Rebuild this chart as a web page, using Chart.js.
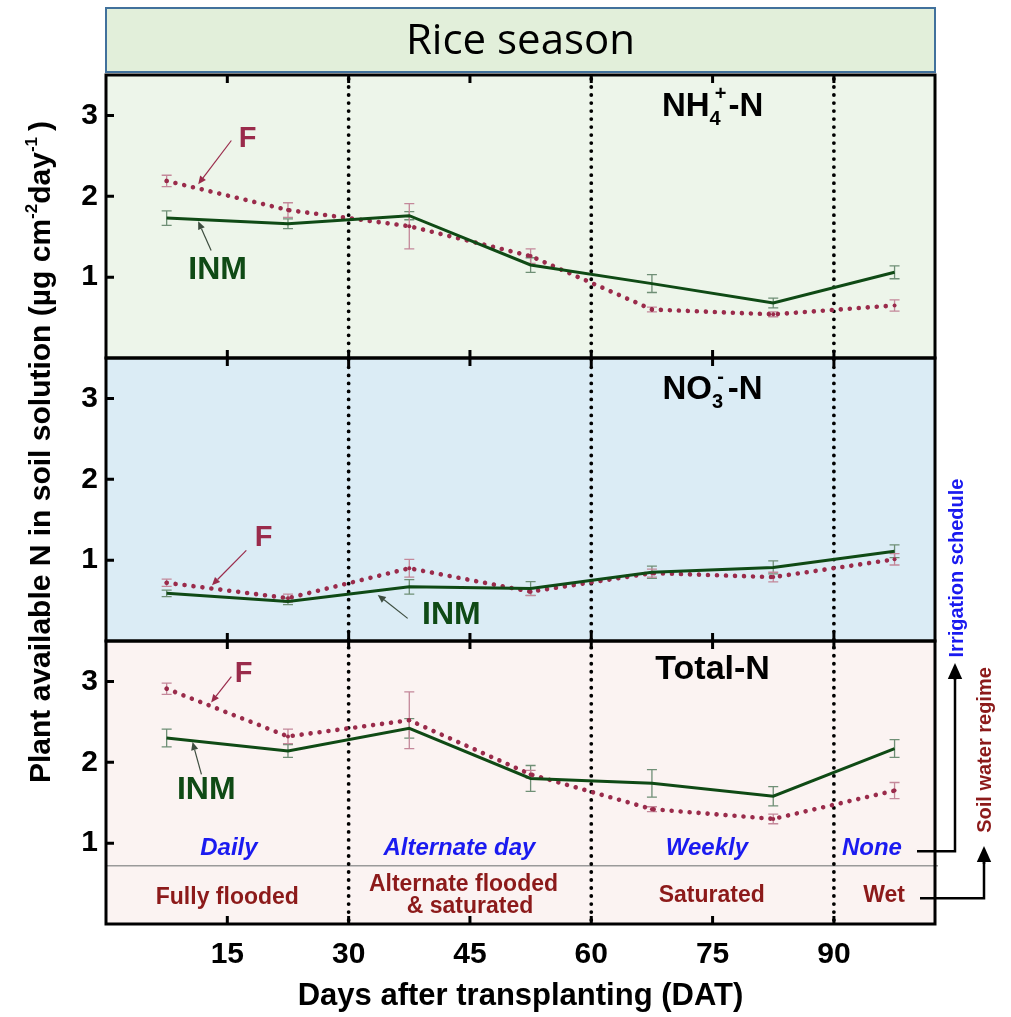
<!DOCTYPE html>
<html><head><meta charset="utf-8">
<script src="https://cdn.jsdelivr.net/npm/chart.js@4.4.0/dist/chart.umd.min.js"></script>
<style>html,body{margin:0;padding:0;background:#fff;}#wrap{width:1011px;height:1017px;}</style>
</head><body><div id="wrap"><canvas id="c" width="1011" height="1017"></canvas></div>
<script>
// ---------- data ----------
const days = [7.5, 22.5, 37.5, 52.5, 67.5, 82.5, 97.5];
const xTickValues = [15, 30, 45, 60, 75, 90];
const yTickValues = [1, 2, 3];
const phaseBounds = [30, 60, 90];

const nh4F      = [2.19, 1.83, 1.63, 1.26, 0.60, 0.54, 0.65];
const nh4FErr   = [0.07, 0.09, 0.28, 0.09, 0.03, 0.03, 0.07];
const nh4INM    = [1.73, 1.66, 1.76, 1.15, 0.92, 0.68, 1.06];
const nh4INMErr = [0.09, 0.06, 0.05, 0.09, 0.11, 0.06, 0.08];

const no3F      = [0.72, 0.53, 0.90, 0.61, 0.84, 0.79, 1.01];
const no3FErr   = [0.045, 0.05, 0.11, 0.05, 0.05, 0.06, 0.07];
const no3INM    = [0.59, 0.49, 0.67, 0.65, 0.85, 0.91, 1.11];
const no3INMErr = [0.04, 0.04, 0.09, 0.085, 0.075, 0.08, 0.08];

const totF      = [2.91, 2.32, 2.52, 1.85, 1.42, 1.30, 1.65];
const totFErr   = [0.07, 0.09, 0.35, 0.05, 0.03, 0.06, 0.10];
const totINM    = [2.30, 2.14, 2.42, 1.80, 1.74, 1.58, 2.17];
const totINMErr = [0.11, 0.08, 0.12, 0.16, 0.17, 0.12, 0.11];

const irrigationLabels = ['Daily', 'Alternate day', 'Weekly', 'None'];
const regimeLabels = ['Fully flooded', 'Alternate flooded', '& saturated', 'Saturated', 'Wet'];
const headerText = 'Rice season';
const xTitle = 'Days after transplanting (DAT)';

// ---------- styles ----------
const FCOL = '#9a2b4b', GCOL = '#0f4a15';
const FERR = '#c4889a', GERR = '#6f8f76';
const BLUE = '#1a1af0', MAROON = '#8c1a1a';
const FONT = '"Liberation Sans", Arial, sans-serif';
const panels = [
  {id: 'yNH4', bg: '#edf5ea'},
  {id: 'yNO3', bg: '#dbecf5'},
  {id: 'yTOT', bg: '#fbf3f2'}
];

function pts(vals) { return days.map((d, i) => ({x: d, y: vals[i]})); }
function inm(vals, axis, err) {
  return {label: 'INM', data: pts(vals), yAxisID: axis, borderColor: GCOL, borderWidth: 3,
    pointRadius: 0, tension: 0, errors: err, errColor: GERR};
}
function fser(vals, axis, err) {
  return {label: 'F', data: pts(vals), yAxisID: axis, borderColor: FCOL, backgroundColor: FCOL,
    borderWidth: 4.6, borderDash: [0.01, 9], borderCapStyle: 'round', pointRadius: 2,
    pointBorderWidth: 0, tension: 0, errors: err, errColor: FERR};
}

function yScale(weight) {
  return {
    type: 'linear', position: 'left', stack: 'panels', stackWeight: 1, weight: weight,
    min: 0, max: 3.5,
    afterBuildTicks: s => { s.ticks = yTickValues.map(v => ({value: v})); },
    afterFit: s => { s.width = 106; },
    grid: {display: false, drawTicks: false}, border: {display: false},
    ticks: {color: '#000', padding: 8, font: {size: 30, weight: 'bold', family: FONT}}
  };
}

function richWidth(ctx, parts) {
  let w = 0;
  for (const p of parts) { ctx.font = p.font; w += ctx.measureText(p.t).width + (p.gap || 0); }
  return w;
}
function drawRich(ctx, parts, cx, cy) {
  const w = richWidth(ctx, parts);
  let x = cx - w / 2;
  ctx.textAlign = 'left'; ctx.textBaseline = 'middle';
  for (const p of parts) {
    ctx.font = p.font;
    ctx.fillText(p.t, x, cy + (p.dy || 0));
    x += ctx.measureText(p.t).width + (p.gap || 0);
  }
}
function arrow(ctx, x1, y1, x2, y2, color, lw, head) {
  ctx.save();
  ctx.strokeStyle = color; ctx.fillStyle = color; ctx.lineWidth = lw;
  const a = Math.atan2(y2 - y1, x2 - x1);
  const bx = x2 - head * Math.cos(a), by = y2 - head * Math.sin(a);
  ctx.beginPath(); ctx.moveTo(x1, y1); ctx.lineTo(bx, by); ctx.stroke();
  ctx.beginPath();
  ctx.moveTo(x2, y2);
  ctx.lineTo(bx + head * 0.45 * Math.sin(a), by - head * 0.45 * Math.cos(a));
  ctx.lineTo(bx - head * 0.45 * Math.sin(a), by + head * 0.45 * Math.cos(a));
  ctx.closePath(); ctx.fill();
  ctx.restore();
}

const decor = {
  id: 'decor',
  beforeDraw(chart) {
    const ctx = chart.ctx, ca = chart.chartArea, sc = chart.scales;
    ctx.save();
    ctx.fillStyle = '#fff'; ctx.fillRect(0, 0, chart.width, chart.height);
    // header
    ctx.fillStyle = '#e2efda'; ctx.fillRect(ca.left, 8, ca.right - ca.left, 64);
    ctx.strokeStyle = '#41719c'; ctx.lineWidth = 2; ctx.strokeRect(ca.left, 8, ca.right - ca.left, 64);
    ctx.fillStyle = '#000'; ctx.font = '42px "Open Sans", sans-serif';
    ctx.textAlign = 'center'; ctx.textBaseline = 'middle';
    ctx.fillText(headerText, (ca.left + ca.right) / 2, 42);
    // panel backgrounds
    for (const p of panels) {
      const s = sc[p.id];
      ctx.fillStyle = p.bg; ctx.fillRect(ca.left, s.top, ca.right - ca.left, s.bottom - s.top);
    }
    ctx.restore();
  },
  beforeDatasetsDraw(chart) {
    const ctx = chart.ctx, ca = chart.chartArea, sc = chart.scales, xs = sc.x;
    ctx.save();
    // gray separator line in bottom panel
    const gy = sc.yTOT.getPixelForValue(0.72);
    ctx.strokeStyle = '#9a9a9a'; ctx.lineWidth = 1.5;
    ctx.beginPath(); ctx.moveTo(ca.left, gy); ctx.lineTo(ca.right + 3, gy); ctx.stroke();
    // error bars
    chart.data.datasets.forEach(ds => {
      const ys = sc[ds.yAxisID];
      ctx.strokeStyle = ds.errColor; ctx.lineWidth = 1.3;
      ds.data.forEach((p, i) => {
        const e = ds.errors[i];
        const x = xs.getPixelForValue(p.x);
        const y1 = ys.getPixelForValue(p.y - e), y2 = ys.getPixelForValue(p.y + e);
        ctx.beginPath();
        ctx.moveTo(x, y1); ctx.lineTo(x, y2);
        ctx.moveTo(x - 5, y1); ctx.lineTo(x + 5, y1);
        ctx.moveTo(x - 5, y2); ctx.lineTo(x + 5, y2);
        ctx.stroke();
      });
    });
    // dotted phase boundaries
    ctx.strokeStyle = '#000'; ctx.lineWidth = 3.8; ctx.lineCap = 'round';
    ctx.setLineDash([0.01, 8]);
    for (const b of phaseBounds) {
      const x = xs.getPixelForValue(b);
      ctx.beginPath(); ctx.moveTo(x, ca.top + 4); ctx.lineTo(x, ca.bottom); ctx.stroke();
    }
    ctx.restore();
  },
  afterDatasetsDraw(chart) {
    const ctx = chart.ctx, ca = chart.chartArea, sc = chart.scales, xs = sc.x;
    ctx.save();
    // frames and inward ticks
    ctx.strokeStyle = '#000'; ctx.lineWidth = 3; ctx.lineCap = 'butt';
    for (const p of panels) {
      const s = sc[p.id];
      ctx.strokeRect(ca.left, s.top, ca.right - ca.left, s.bottom - s.top);
      ctx.beginPath();
      for (const v of yTickValues) {
        const y = s.getPixelForValue(v);
        ctx.moveTo(ca.left, y); ctx.lineTo(ca.left + 8, y);
      }
      for (const v of xTickValues) {
        const x = xs.getPixelForValue(v);
        ctx.moveTo(x, s.bottom); ctx.lineTo(x, s.bottom - 8);
        ctx.moveTo(x, s.top); ctx.lineTo(x, s.top + 8);
      }
      ctx.stroke();
    }
    // panel titles
    ctx.fillStyle = '#000';
    const big = `bold 33px ${FONT}`, small = `bold 20px ${FONT}`;
    const tx = xs.getPixelForValue(75);
    drawRich(ctx, [{t: 'NH', font: big}, {t: '4', font: small, dy: 12, gap: -6}, {t: '+', font: small, dy: -13, gap: 2}, {t: '-N', font: big}],
      tx, sc.yNH4.getPixelForValue(3.1));
    drawRich(ctx, [{t: 'NO', font: big}, {t: '3', font: small, dy: 12, gap: -6}, {t: '-', font: small, dy: -13, gap: 4}, {t: '-N', font: big}],
      tx, sc.yNO3.getPixelForValue(3.1));
    drawRich(ctx, [{t: 'Total-N', font: `bold 34px ${FONT}`}], tx, sc.yTOT.getPixelForValue(3.15));
    // series annotations
    const notes = [
      {ax: 'yNH4', t: 'F', x: 17.5, y: 2.71, a: [15.5, 2.69, 11.4, 2.15]},
      {ax: 'yNH4', t: 'INM', x: 13.8, y: 1.09, a: [13.0, 1.33, 11.4, 1.69]},
      {ax: 'yNO3', t: 'F', x: 19.5, y: 1.28, a: [17.35, 1.12, 13.1, 0.69]},
      {ax: 'yNO3', t: 'INM', x: 42.7, y: 0.32, a: [37.3, 0.28, 33.6, 0.57]},
      {ax: 'yTOT', t: 'F', x: 17.0, y: 3.09, a: [15.5, 3.06, 13.0, 2.74]},
      {ax: 'yTOT', t: 'INM', x: 12.4, y: 1.65, a: [11.8, 1.85, 10.7, 2.25]}
    ];
    for (const n of notes) {
      const ys = sc[n.ax];
      const isF = n.t === 'F';
      ctx.fillStyle = isF ? FCOL : GCOL;
      ctx.font = `bold ${isF ? 29 : 32}px ${FONT}`;
      ctx.textAlign = 'center'; ctx.textBaseline = 'middle';
      ctx.fillText(n.t, xs.getPixelForValue(n.x), ys.getPixelForValue(n.y));
      arrow(ctx, xs.getPixelForValue(n.a[0]), ys.getPixelForValue(n.a[1]),
        xs.getPixelForValue(n.a[2]), ys.getPixelForValue(n.a[3]), isF ? FCOL : '#3d4d3f', 1.2, 8);
    }
    // irrigation schedule / water regime labels
    const yt = sc.yTOT;
    const irrX = [15.2, 43.7, 74.3, 94.7];
    ctx.fillStyle = BLUE; ctx.font = `italic bold 24px ${FONT}`;
    irrigationLabels.forEach((t, i) => ctx.fillText(t, xs.getPixelForValue(irrX[i]), yt.getPixelForValue(0.94)));
    const regPos = [[15, 0.33], [44.2, 0.49], [45, 0.21], [74.9, 0.35], [96.2, 0.35]];
    ctx.fillStyle = MAROON; ctx.font = `bold 23px ${FONT}`;
    regimeLabels.forEach((t, i) => ctx.fillText(t, xs.getPixelForValue(regPos[i][0]), yt.getPixelForValue(regPos[i][1])));
    // side connectors
    const yIrr = yt.getPixelForValue(0.9), yReg = yt.getPixelForValue(0.32);
    ctx.strokeStyle = '#000'; ctx.lineWidth = 2.5;
    ctx.beginPath(); ctx.moveTo(ca.right - 18, yIrr); ctx.lineTo(955, yIrr); ctx.lineTo(955, 678); ctx.stroke();
    arrow(ctx, 955, 680, 955, 663, '#000', 2.5, 16);
    ctx.beginPath(); ctx.moveTo(ca.right - 15, yReg); ctx.lineTo(984, yReg); ctx.lineTo(984, 862); ctx.stroke();
    arrow(ctx, 984, 864, 984, 846, '#000', 2.5, 16);
    // rotated side titles
    ctx.save(); ctx.translate(957, 568); ctx.rotate(-Math.PI / 2);
    ctx.fillStyle = BLUE; ctx.font = `bold 20px ${FONT}`; ctx.fillText('Irrigation schedule', 0, 0);
    ctx.restore();
    ctx.save(); ctx.translate(985, 750); ctx.rotate(-Math.PI / 2);
    ctx.fillStyle = MAROON; ctx.font = `bold 20px ${FONT}`; ctx.fillText('Soil water regime', 0, 0);
    ctx.restore();
    // y-axis title
    ctx.save(); ctx.translate(42, 452); ctx.rotate(-Math.PI / 2);
    ctx.fillStyle = '#000';
    const yf = `bold 30px ${FONT}`, ys2 = `bold 17px ${FONT}`;
    drawRich(ctx, [
      {t: 'Plant available N in soil solution (\u00b5g cm', font: yf},
      {t: '-2', font: ys2, dy: -10},
      {t: 'day', font: yf},
      {t: '-1', font: ys2, dy: -10, gap: 6},
      {t: ')', font: yf}
    ], 0, 0);
    ctx.restore();
    ctx.restore();
  }
};

new Chart(document.getElementById('c'), {
  type: 'line',
  data: {
    datasets: [
      inm(nh4INM, 'yNH4', nh4INMErr), inm(no3INM, 'yNO3', no3INMErr), inm(totINM, 'yTOT', totINMErr),
      fser(nh4F, 'yNH4', nh4FErr), fser(no3F, 'yNO3', no3FErr), fser(totF, 'yTOT', totFErr)
    ]
  },
  options: {
    responsive: false, animation: false, devicePixelRatio: 1,
    layout: {padding: {left: 0, right: 76, top: 75, bottom: 0}},
    plugins: {legend: {display: false}, tooltip: {enabled: false}},
    scales: {
      x: {
        type: 'linear', position: 'bottom', min: 0, max: 102.5,
        afterBuildTicks: s => { s.ticks = xTickValues.map(v => ({value: v})); },
        afterFit: s => { s.height = 93; },
        grid: {display: false, drawTicks: false}, border: {display: false},
        ticks: {color: '#000', padding: 13, maxRotation: 0, font: {size: 30, weight: 'bold', family: FONT}},
        title: {display: true, text: xTitle, color: '#000', padding: {top: 0, bottom: 2},
          font: {size: 31, weight: 'bold', family: FONT}}
      },
      yNH4: yScale(3),
      yNO3: yScale(2),
      yTOT: yScale(1)
    }
  },
  plugins: [decor]
});
</script></body></html>
